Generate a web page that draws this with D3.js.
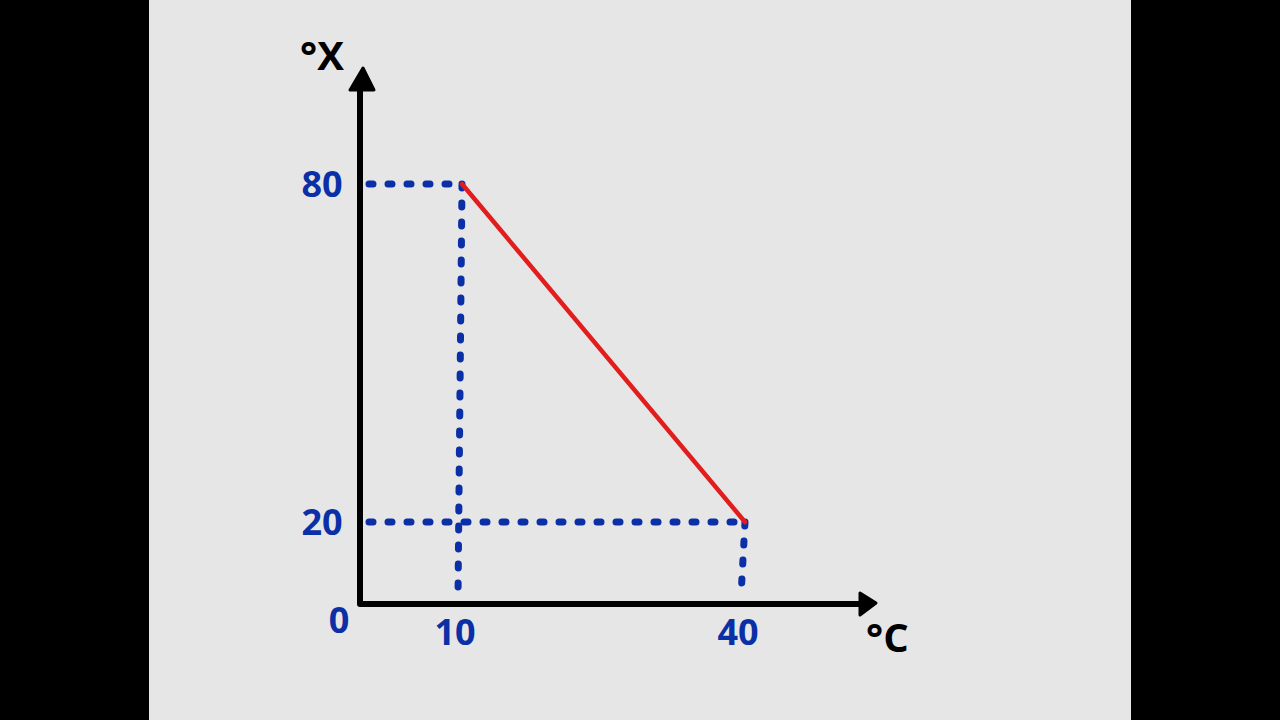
<!DOCTYPE html>
<html>
<head>
<meta charset="utf-8">
<script src="https://cdn.jsdelivr.net/npm/d3@7"></script>
<style>
  html, body { margin: 0; padding: 0; background: #000; }
  svg { display: block; }
</style>
</head>
<body>
<div id="chart"></div>
<script>
// values
const xTicks = [0, 10, 40];
const yTicks = [20, 80];
const lineC = [10, 40];
const lineX = [80, 20];
const xUnit = "°C";
const yUnit = "°X";

const width = 1280, height = 720;
const blue = "#0b2fa6";

// hand drawn axes are not linear, so the scales are piecewise
let x = d3.scaleLinear().domain([0, 10, 40]).range([360, 462, 745]);
let y = d3.scaleLinear().domain([0, 20, 80]).range([604, 522, 184]);

let svg = d3.select("#chart").append("svg")
  .attr("width", width)
  .attr("height", height)
  .attr("font-family", "'Open Sans', sans-serif")
  .attr("font-weight", 700);

svg.append("rect")
  .attr("x", 149).attr("y", 0)
  .attr("width", 982).attr("height", height)
  .attr("fill", "#e6e6e6");

let points = lineC.map((c, i) => ({ c: c, v: lineX[i] }));

// dotted guide lines
let guides = svg.append("g")
  .attr("stroke", blue)
  .attr("stroke-width", 7)
  .attr("stroke-linecap", "round")
  .attr("stroke-dasharray", "4 15")
  .attr("fill", "none");

points.forEach((p) => {
  guides.append("line")
    .attr("x1", x(0) + 9).attr("y1", y(p.v))
    .attr("x2", x(p.c)).attr("y2", y(p.v));
  guides.append("line")
    .attr("x1", x(p.c)).attr("y1", y(p.v))
    .attr("x2", x(p.c) - 4).attr("y2", y(0) - 8);
});

// red line
svg.append("path")
  .datum(points)
  .attr("fill", "none")
  .attr("stroke", "#e21d1d")
  .attr("stroke-width", 4.5)
  .attr("stroke-linecap", "round")
  .attr("d", d3.line().x((d) => x(d.c)).y((d) => y(d.v)));

// axes with arrows
let axes = svg.append("g").attr("stroke", "#000").attr("fill", "#000");
axes.append("path")
  .attr("fill", "none")
  .attr("stroke-width", 6)
  .attr("stroke-linejoin", "round")
  .attr("d", `M${x(0)},85 L${x(0)},${y(0)} L862,${y(0)}`);
axes.append("path")
  .attr("stroke-width", 3)
  .attr("stroke-linejoin", "round")
  .attr("d", `M363,68 L374,90 L350,90 Z`);
axes.append("path")
  .attr("stroke-width", 3)
  .attr("stroke-linejoin", "round")
  .attr("d", `M876,603 L860,593 L860,615 Z`);

// tick labels
let labels = svg.append("g")
  .attr("fill", blue)
  .attr("font-size", 36)
  .attr("text-anchor", "middle");

labels.selectAll(".ylab")
  .data(yTicks)
  .join("text")
  .attr("class", "ylab")
  .attr("x", 322)
  .attr("y", (d) => y(d))
  .attr("dy", "0.36em")
  .text((d) => d);

labels.selectAll(".xlab")
  .data(xTicks)
  .join("text")
  .attr("class", "xlab")
  .attr("x", (d) => (d === 0 ? x(d) - 21 : x(d) - 7))
  .attr("y", (d) => (d === 0 ? 620 : 632))
  .attr("dy", "0.36em")
  .text((d) => d);

// unit labels
svg.append("text")
  .attr("x", 300).attr("y", 70)
  .attr("font-size", 40)
  .attr("fill", "#000")
  .text(yUnit);

svg.append("text")
  .attr("x", 866).attr("y", 652)
  .attr("font-size", 40)
  .attr("fill", "#000")
  .text(xUnit);
</script>
</body>
</html>
